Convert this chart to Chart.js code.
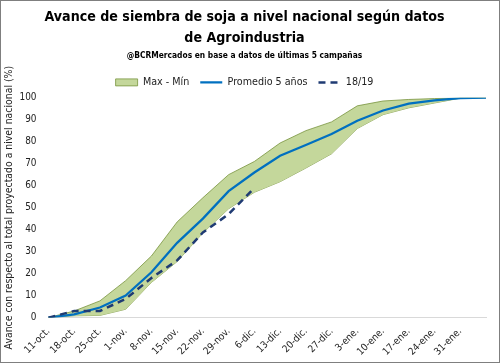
<!DOCTYPE html>
<html>
<head>
<meta charset="utf-8">
<script src="https://cdn.jsdelivr.net/npm/chart.js@4"></script>
<style>
  html, body { margin: 0; padding: 0; background: #fff; }
  #wrap { width: 500px; height: 363px; box-sizing: border-box; border: 1px solid #7f7f7f; }
  canvas { display: block; }
</style>
</head>
<body>
<div id="wrap"><canvas id="c" width="498" height="361"></canvas></div>
<script>
const categories = ['11-oct.', '18-oct.', '25-oct.', '1-nov.', '8-nov.', '15-nov.', '22-nov.', '29-nov.', '6-dic.', '13-dic.', '20-dic.', '27-dic.', '3-ene.', '10-ene.', '17-ene.', '24-ene.', '31-ene.', ''];
const maxValues = [0, 3, 7.6, 16.8, 28, 43.5, 54.5, 65, 71, 79.4, 85, 89, 96.3, 98.5, 99.2, 99.6, 100, 100];
const minValues = [0, 0.8, 1, 3.8, 16, 25.5, 38.5, 49.5, 57, 61.8, 68, 74.5, 86, 92.3, 95.4, 97.6, 99.8, 100];
const avgValues = [0, 1.5, 4.6, 10, 20.6, 34, 45, 57.5, 66, 73.6, 78.5, 83.5, 89.5, 94.2, 97.3, 98.8, 99.8, 100];
const season1819 = [0, 3, 3, 8.5, 18, 26, 38.7, 47, 59, null, null, null, null, null, null, null, null, null];
const yTicks = [0, 10, 20, 30, 40, 50, 60, 70, 80, 90, 100];

const FAMILY = "'Liberation Sans Narrow', 'DejaVu Sans', sans-serif";
const TITLE = ['Avance de siembra de soja a nivel nacional según datos', 'de Agroindustria'];
const SUBTITLE = '@BCRMercados en base a datos de últimas 5 campañas';

// fit a font size so a text reaches a given width
const mctx = document.createElement('canvas').getContext('2d');
function fit(text, style, target, maxSize) {
  mctx.font = style + ' 20px ' + FAMILY;
  const w = mctx.measureText(text).width;
  return Math.min(maxSize, 20 * target / w);
}
const titleSize = fit(TITLE[0], 'bold condensed', 400, 19);
const subSize = fit(SUBTITLE, 'bold condensed', 236, 13);
const legendSize = fit('Promedio 5 años', 'condensed', 80, 13);
const tickSize = fit('100', 'condensed', 17, 13);

new Chart(document.getElementById('c'), {
  type: 'line',
  data: {
    labels: categories,
    datasets: [
      {
        label: 'Max - Mín',
        data: maxValues,
        borderColor: '#77933c',
        borderWidth: 0.8,
        backgroundColor: '#c4d79b',
        fill: '+1',
        pointRadius: 0,
        tension: 0,
        pointStyle: 'rect',
        order: 3
      },
      {
        label: 'min',
        data: minValues,
        borderColor: '#77933c',
        borderWidth: 0.8,
        backgroundColor: '#c4d79b',
        fill: false,
        pointRadius: 0,
        tension: 0,
        order: 3
      },
      {
        label: 'Promedio 5 años',
        data: avgValues,
        borderColor: '#0070c0',
        backgroundColor: '#0070c0',
        borderWidth: 2.25,
        fill: false,
        pointRadius: 0,
        tension: 0,
        pointStyle: 'line',
        order: 2
      },
      {
        label: '18/19',
        data: season1819,
        borderColor: '#1f3b73',
        backgroundColor: '#1f3b73',
        borderWidth: 2.5,
        borderDash: [7, 5],
        fill: false,
        pointRadius: 0,
        tension: 0,
        pointStyle: 'line',
        spanGaps: false,
        order: 1
      }
    ]
  },
  options: {
    responsive: false,
    animation: false,
    devicePixelRatio: 1,
    layout: { padding: { left: 2, right: 13, top: 2, bottom: 4 } },
    plugins: {
      title: {
        display: true,
        text: TITLE,
        color: '#000',
        font: { family: FAMILY, size: titleSize, weight: 'bold condensed', lineHeight: '21px' },
        padding: { top: 4, bottom: 1 }
      },
      subtitle: {
        display: true,
        text: SUBTITLE,
        color: '#000',
        font: { family: FAMILY, size: subSize, weight: 'bold condensed' },
        padding: { top: 1, bottom: 5 }
      },
      legend: {
        display: true,
        position: 'top',
        labels: {
          usePointStyle: true,
          pointStyleWidth: 22,
          boxHeight: 7,
          color: '#222',
          font: { family: FAMILY, size: legendSize, weight: 'condensed' },
          padding: 11,
          generateLabels: (chart) => {
            const items = Chart.defaults.plugins.legend.labels.generateLabels(chart);
            return items
              .filter(it => it.text !== 'min')
              .sort((a, b) => a.datasetIndex - b.datasetIndex)
              .map(it => {
                const ds = chart.data.datasets[it.datasetIndex];
                it.strokeStyle = ds.borderColor;
                it.fillStyle = ds.backgroundColor;
                it.lineWidth = ds.borderWidth;
                it.lineDash = ds.borderDash || [];
                return it;
              });
          }
        }
      },
      tooltip: { enabled: false }
    },
    scales: {
      x: {
        offset: false,
        grid: { display: false },
        border: { display: true, color: '#d9d9d9' },
        ticks: {
          autoSkip: false,
          maxRotation: 45,
          minRotation: 45,
          color: '#222',
          font: { family: FAMILY, size: tickSize, weight: 'condensed' },
          padding: 0
        }
      },
      y: {
        min: 0,
        max: 100,
        afterBuildTicks: (axis) => { axis.ticks = yTicks.map(v => ({ value: v })); },
        grid: { display: false },
        border: { display: false },
        ticks: {
          color: '#222',
          font: { family: FAMILY, size: tickSize, weight: 'condensed' },
          padding: 4
        },
        title: {
          display: true,
          text: 'Avance con respecto al total proyectado a nivel nacional (%)',
          color: '#222',
          font: { family: FAMILY, size: tickSize * 1.05, weight: 'condensed' },
          padding: { top: 0, bottom: 0 }
        }
      }
    }
  }
});
</script>
</body>
</html>
